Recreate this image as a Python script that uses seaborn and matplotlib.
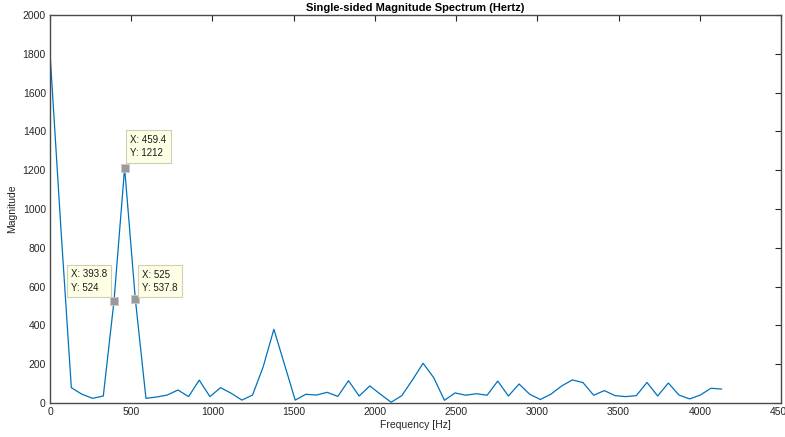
import matplotlib
matplotlib.use("Agg")
import matplotlib.pyplot as plt
import seaborn as sns
import pandas as pd

# Single-sided spectrum: bin frequencies (Hz) and magnitudes
freq_hz = [
    0, 65.625, 131.25, 196.875, 262.5, 328.125, 393.75, 459.375,
    525, 590.625, 656.25, 721.875, 787.5, 853.125, 918.75, 984.375,
    1050, 1115.625, 1181.25, 1246.875, 1312.5, 1378.125, 1443.75, 1509.375,
    1575, 1640.625, 1706.25, 1771.875, 1837.5, 1903.125, 1968.75, 2034.375,
    2100, 2165.625, 2231.25, 2296.875, 2362.5, 2428.125, 2493.75, 2559.375,
    2625, 2690.625, 2756.25, 2821.875, 2887.5, 2953.125, 3018.75, 3084.375,
    3150, 3215.625, 3281.25, 3346.875, 3412.5, 3478.125, 3543.75, 3609.375,
    3675, 3740.625, 3806.25, 3871.875, 3937.5, 4003.125, 4068.75, 4134.375,
]
magnitude = [
    1805, 920, 79, 45, 24, 36, 524, 1212,
    537.8, 24, 31, 41, 67, 33, 118, 33,
    79, 50, 15, 41, 187, 380, 198, 15,
    45, 41, 55, 34, 115, 36, 88, 45,
    4, 38, 119, 205, 130, 14, 52, 40,
    48, 40, 113, 36, 98, 45, 18, 46,
    88, 119, 105, 40, 64, 38, 33, 38,
    106, 36, 103, 41, 21, 41, 76, 72,
]

# Bins carrying a data tip, with tip placement (offset in points, alignment)
tip_bins = [7, 6, 8]
tip_offsets = [(4.0, 7.0), (-5.0, 6.0), (5.0, 4.0)]
tip_align = ["left", "right", "left"]

x_ticks = list(range(0, 4501, 500))
y_ticks = list(range(0, 2001, 200))

sns.set_style("white")
plt.rcParams["font.family"] = ["Liberation Sans", "DejaVu Sans"]

df = pd.DataFrame({"Frequency": freq_hz, "Magnitude": magnitude})

fig = plt.figure(figsize=(7.85, 4.37), dpi=100)
ax = fig.add_axes([50 / 785, 1 - 403 / 437, 731 / 785, 388 / 437])

sns.lineplot(data=df, x="Frequency", y="Magnitude", ax=ax,
             color="#0072BD", linewidth=0.9, estimator=None, sort=False)

ax.set_xlim(0, 4500)
ax.set_ylim(0, 2000)
ax.set_xticks(x_ticks)
ax.set_yticks(y_ticks)
ax.tick_params(axis="both", which="both", direction="in", length=4.5,
               width=0.8, color="#262626", labelsize=7.5, labelcolor="#262626",
               top=True, right=True, pad=3)
for sp in ax.spines.values():
    sp.set_visible(True)
    sp.set_color("#4a4a4a")
    sp.set_linewidth(1.0)

ax.set_xlabel("Frequency [Hz]", fontsize=7.5, color="#262626", labelpad=2)
ax.set_ylabel("Magnitude", fontsize=7.5, color="#262626", labelpad=4)
ax.set_title("Single-sided Magnitude Spectrum (Hertz)", fontsize=8,
             fontweight="bold", color="black", pad=3)

# Data tips
for b, off, ha in zip(tip_bins, tip_offsets, tip_align):
    fx, my = freq_hz[b], magnitude[b]
    ax.plot([fx], [my], marker="s", markersize=5.5, color="#9a9a9a",
            markeredgecolor="#c8c8c8", markeredgewidth=0.6, zorder=5)
    ax.annotate(f"X: {fx:.4g}\nY: {my:.4g}", xy=(fx, my), xytext=off,
                textcoords="offset points", ha=ha, va="bottom",
                multialignment="left",
                fontsize=7, color="#1a1a1a", linespacing=1.45,
                bbox=dict(boxstyle="square,pad=0.45", fc="#FFFFE6",
                          ec="#cfcfb8", lw=0.8), zorder=6)

fig.savefig("out.png", dpi=100)
